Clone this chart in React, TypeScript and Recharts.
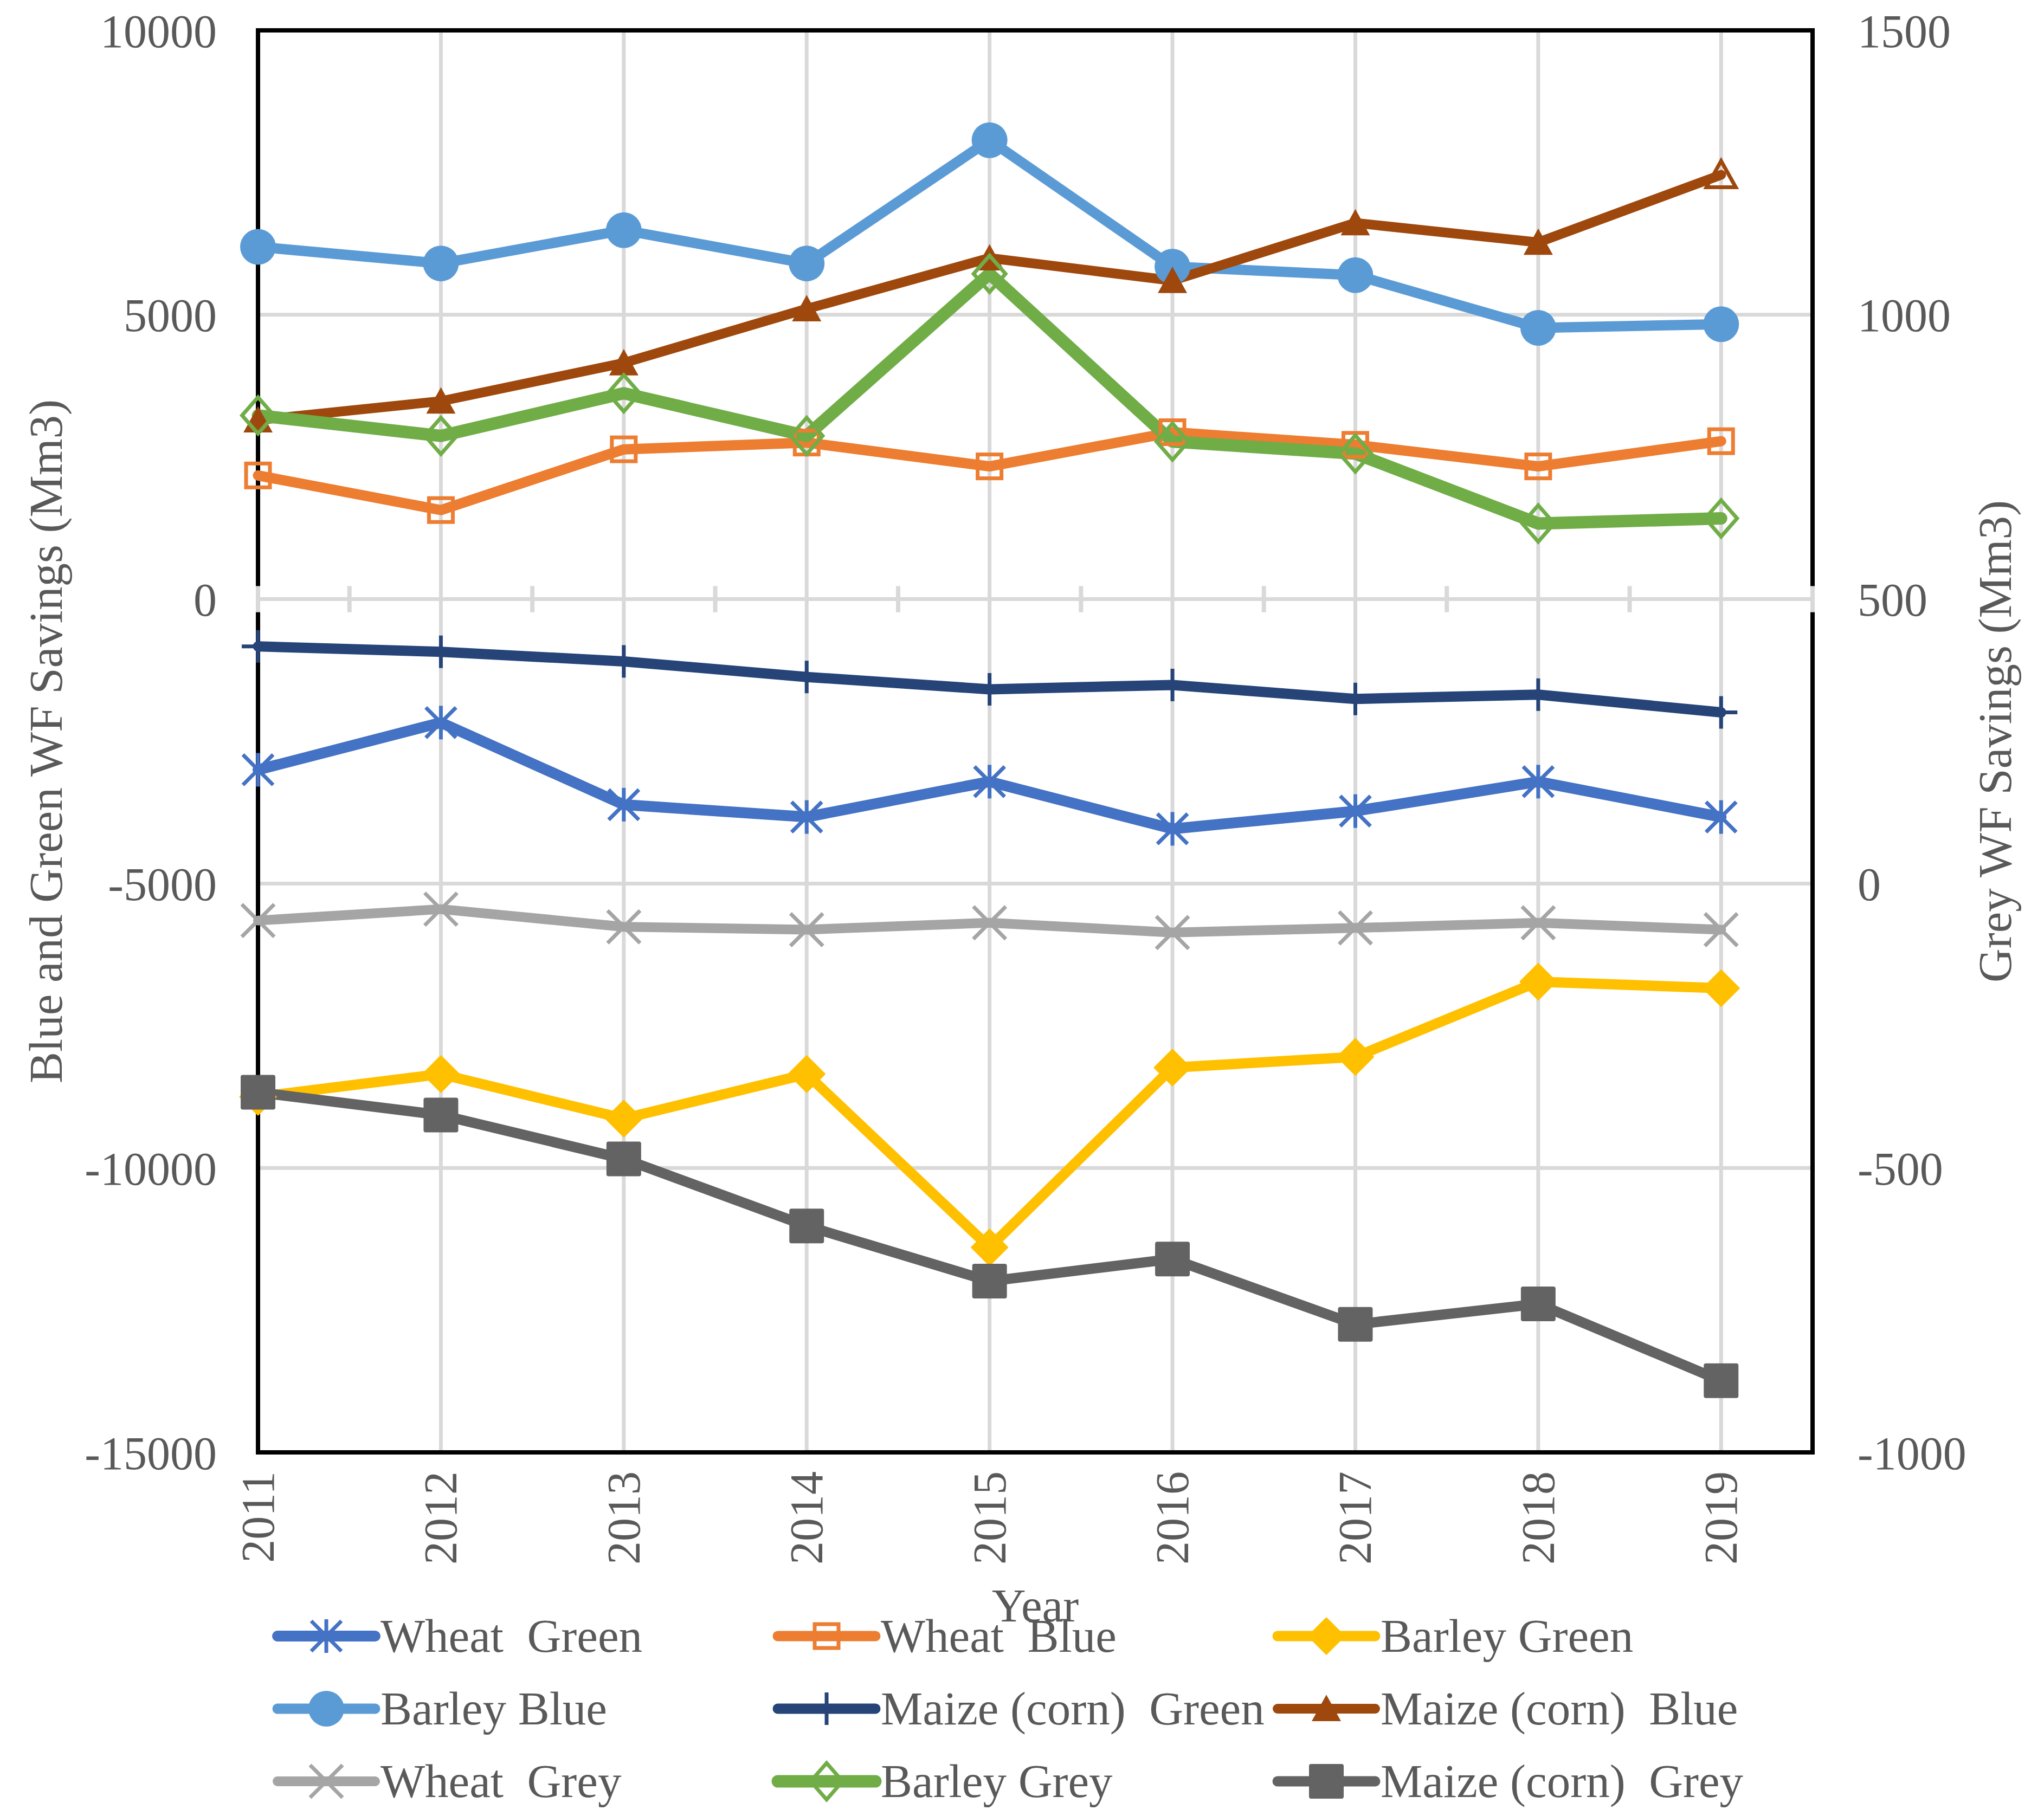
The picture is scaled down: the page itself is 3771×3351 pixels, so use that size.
import { LineChart, Line, XAxis, YAxis, CartesianGrid, ReferenceArea, ReferenceLine } from 'recharts';

const years = [2011, 2012, 2013, 2014, 2015, 2016, 2017, 2018, 2019];

// primary axis (blue and green WF savings, Mm3)
const wheatGreen = [-3000, -2170, -3613, -3830, -3208, -4038, -3726, -3208, -3830];
const wheatBlue = [2175, 1566, 2634, 2753, 2334, 2935, 2713, 2334, 2777];
const barleyGreen = [-8750, -8349, -9132, -8349, -11396, -8236, -8047, -6726, -6840];
const barleyBlue = [6194, 5902, 6487, 5902, 8069, 5846, 5696, 4770, 4834];
const maizeGreen = [-830, -925, -1094, -1368, -1585, -1509, -1755, -1679, -1991];
const maizeBlue = [3149, 3481, 4153, 5103, 5997, 5601, 6614, 6273, 7460];

// secondary axis (grey WF savings, Mm3)
const wheatGrey = [-65, -45, -76, -81, -69, -86, -78, -69, -81];
const barleyGrey = [823, 787, 862, 787, 1072, 777, 756, 633, 642];
const maizeGrey = [-367, -407, -484, -602, -699, -660, -775, -739, -874];

const leftTicks = [-15000, -10000, -5000, 0, 5000, 10000];
const rightTicks = [-1000, -500, 0, 500, 1000, 1500];
// tick marks sitting on the zero line (category axis in the original)
const zeroTicks = [2011, 2011.5, 2012.5, 2013.5, 2014.5, 2015.5, 2016.5, 2017.5, 2018.5, 2019.5];

const data = years.map((year, i) => ({
  year,
  wheatGreen: wheatGreen[i],
  wheatBlue: wheatBlue[i],
  barleyGreen: barleyGreen[i],
  barleyBlue: barleyBlue[i],
  maizeGreen: maizeGreen[i],
  maizeBlue: maizeBlue[i],
  wheatGrey: wheatGrey[i],
  barleyGrey: barleyGrey[i],
  maizeGrey: maizeGrey[i],
}));

type Kind = 'asterisk' | 'squareOpen' | 'diamond' | 'circle' | 'plus' | 'triangle' | 'x' | 'diamondOpen' | 'square';

type Series = {
  key: string;
  name: string;
  color: string;
  width: number;
  kind: Kind;
  size: number;
  axis: 'left' | 'right';
  openLast?: boolean;
};

const series: Series[] = [
  { key: 'wheatGreen', name: 'Wheat  Green', color: '#4472C4', width: 20, kind: 'asterisk', size: 62, axis: 'left' },
  { key: 'wheatBlue', name: 'Wheat  Blue', color: '#ED7D31', width: 19, kind: 'squareOpen', size: 44, axis: 'left' },
  { key: 'barleyGreen', name: 'Barley Green', color: '#FFC000', width: 19, kind: 'diamond', size: 66, axis: 'left' },
  { key: 'barleyBlue', name: 'Barley Blue', color: '#5B9BD5', width: 19, kind: 'circle', size: 66, axis: 'left' },
  { key: 'maizeGreen', name: 'Maize (corn)  Green', color: '#264478', width: 19, kind: 'plus', size: 60, axis: 'left' },
  { key: 'maizeBlue', name: 'Maize (corn)  Blue', color: '#9E480E', width: 18, kind: 'triangle', size: 54, axis: 'left', openLast: true },
  { key: 'wheatGrey', name: 'Wheat  Grey', color: '#A5A5A5', width: 18, kind: 'x', size: 60, axis: 'right' },
  { key: 'barleyGrey', name: 'Barley Grey', color: '#70AD47', width: 23, kind: 'diamondOpen', size: 64, axis: 'right' },
  { key: 'maizeGrey', name: 'Maize (corn)  Grey', color: '#636363', width: 19, kind: 'square', size: 64, axis: 'right' },
];

const FONT = '"Liberation Serif", "Times New Roman", serif';
const INK = '#595959';
const FS = 86;
const GRID = '#D9D9D9';

function Marker({ kind, cx, cy, size, color, open }: { kind: Kind; cx: number; cy: number; size: number; color: string; open?: boolean }) {
  const h = size / 2;
  const sw = 7;
  switch (kind) {
    case 'circle':
      return <circle cx={cx} cy={cy} r={h} fill={color} />;
    case 'square':
      return <rect x={cx - h} y={cy - h} width={size} height={size} rx={4} fill={color} />;
    case 'squareOpen':
      return <rect x={cx - h} y={cy - h} width={size} height={size} fill="none" stroke={color} strokeWidth={sw} />;
    case 'diamond':
      return <polygon points={`${cx},${cy - h} ${cx + h},${cy} ${cx},${cy + h} ${cx - h},${cy}`} fill={color} strokeLinejoin="round" stroke={color} strokeWidth={3} />;
    case 'diamondOpen':
      return (
        <polygon
          points={`${cx},${cy - h * 1.05} ${cx + h * 0.92},${cy} ${cx},${cy + h * 1.05} ${cx - h * 0.92},${cy}`}
          fill="none"
          stroke={color}
          strokeWidth={sw}
        />
      );
    case 'triangle':
      return (
        <polygon
          points={`${cx},${cy - h * 0.95} ${cx + h},${cy + h * 0.85} ${cx - h},${cy + h * 0.85}`}
          fill={open ? 'none' : color}
          stroke={color}
          strokeWidth={open ? sw : 0}
        />
      );
    case 'asterisk':
      return (
        <g stroke={color} strokeWidth={sw}>
          <line x1={cx} y1={cy - h} x2={cx} y2={cy + h} />
          <line x1={cx - h * 0.9} y1={cy - h * 0.9} x2={cx + h * 0.9} y2={cy + h * 0.9} />
          <line x1={cx - h * 0.9} y1={cy + h * 0.9} x2={cx + h * 0.9} y2={cy - h * 0.9} />
        </g>
      );
    case 'x':
      return (
        <g stroke={color} strokeWidth={sw}>
          <line x1={cx - h} y1={cy - h} x2={cx + h} y2={cy + h} />
          <line x1={cx - h} y1={cy + h} x2={cx + h} y2={cy - h} />
        </g>
      );
    case 'plus':
      return (
        <g stroke={color} strokeWidth={sw}>
          <line x1={cx} y1={cy - h} x2={cx} y2={cy + h} />
          <line x1={cx - h} y1={cy} x2={cx + h} y2={cy} />
        </g>
      );
  }
  return null;
}

const dotFor = (s: Series) => (p: any) => {
  if (p.cx == null || p.cy == null) return <g key={`${s.key}-${p.index}`} />;
  const open = s.openLast && p.index === years.length - 1;
  return (
    <g key={`${s.key}-${p.index}`}>
      <Marker kind={s.kind} cx={p.cx} cy={p.cy} size={s.size} color={s.color} open={open} />
    </g>
  );
};

const YearTick = (p: any) => (
  <text
    x={p.x}
    y={p.y}
    transform={`rotate(-90 ${p.x} ${p.y})`}
    textAnchor="end"
    dominantBaseline="central"
    fill={INK}
    fontSize={FS}
    fontFamily={FONT}
  >
    {p.payload.value}
  </text>
);

const titleStyle = { fill: INK, fontSize: 87, fontFamily: FONT };

const LeftTitle = (p: any) => {
  const vb = p.viewBox || { x: 0, y: 56, width: 476, height: 2624 };
  const x = vb.x + 84;
  const y = vb.y + vb.height / 2;
  return (
    <text x={x} y={y} transform={`rotate(-90 ${x} ${y})`} textAnchor="middle" dominantBaseline="central" {...titleStyle}>
      Blue and Green WF Savings (Mm3)
    </text>
  );
};

const RightTitle = (p: any) => {
  const vb = p.viewBox || { x: 3344, y: 56, width: 427, height: 2624 };
  const x = vb.x + 336;
  const y = vb.y + vb.height / 2;
  return (
    <text x={x} y={y} transform={`rotate(-90 ${x} ${y})`} textAnchor="middle" dominantBaseline="central" {...titleStyle}>
      Grey WF Savings (Mm3)
    </text>
  );
};

const YearTitle = (p: any) => {
  const vb = p.viewBox || { x: 476, y: 2680, width: 2868, height: 671 };
  return (
    <text x={vb.x + vb.width / 2} y={vb.y + 312} textAnchor="middle" {...titleStyle}>
      Year
    </text>
  );
};

const legendCols = [512, 1435, 2357];
const legendRows = [3019, 3153, 3287];

function LegendIcon({ s }: { s: Series }) {
  return (
    <svg width={180} height={70} style={{ display: 'block', overflow: 'visible' }}>
      <line x1={0} y1={35} x2={180} y2={35} stroke={s.color} strokeWidth={s.width} strokeLinecap="round" />
      <Marker kind={s.kind} cx={90} cy={35} size={s.size} color={s.color} />
    </svg>
  );
}

export default function App() {
  const tickStyle = { fill: INK, fontSize: FS, fontFamily: FONT };
  return (
    <div style={{ position: 'relative', width: 3771, height: 3351, background: '#fff' }}>
      <style>{'html,body{margin:0;padding:0;overflow:hidden;background:#fff}'}</style>
      <LineChart width={3771} height={3351} data={data} margin={{ top: 56, right: 0, bottom: 0, left: 0 }}>
        <CartesianGrid yAxisId="left" stroke={GRID} strokeWidth={7} />
        <XAxis
          dataKey="year"
          type="number"
          domain={[2011, 2019.5]}
          ticks={years}
          interval={0}
          height={671}
          axisLine={false}
          tickLine={false}
          tickSize={0}
          tickMargin={35}
          tick={<YearTick />}
          label={{ content: YearTitle }}
        />
        <YAxis
          yAxisId="left"
          orientation="left"
          domain={[-15000, 10000]}
          ticks={leftTicks}
          interval={0}
          width={476}
          axisLine={false}
          tickLine={false}
          tickSize={0}
          tickMargin={76}
          tick={tickStyle}
          label={{ content: LeftTitle }}
        />
        <YAxis
          yAxisId="right"
          orientation="right"
          domain={[-1000, 1500]}
          ticks={rightTicks}
          interval={0}
          width={427}
          axisLine={false}
          tickLine={false}
          tickSize={0}
          tickMargin={83}
          tick={tickStyle}
          label={{ content: RightTitle }}
        />
        <ReferenceArea
          yAxisId="left"
          x1={2011}
          x2={2019.5}
          y1={-15000}
          y2={10000}
          fill="none"
          fillOpacity={0}
          stroke="#000"
          strokeWidth={8}
          ifOverflow="visible"
        />
        <ReferenceLine yAxisId="left" y={0} stroke={GRID} strokeWidth={7} ifOverflow="visible" />
        {zeroTicks.map((t) => (
          <ReferenceLine
            key={t}
            yAxisId="left"
            segment={[
              { x: t, y: -230 },
              { x: t, y: 230 },
            ]}
            stroke={GRID}
            strokeWidth={8}
            ifOverflow="visible"
          />
        ))}
        {series.map((s) => (
          <Line
            key={s.key}
            yAxisId={s.axis}
            dataKey={s.key}
            name={s.name}
            type="linear"
            stroke={s.color}
            strokeWidth={s.width}
            strokeLinejoin="round"
            strokeLinecap="round"
            dot={dotFor(s)}
            activeDot={false}
            isAnimationActive={false}
          />
        ))}
      </LineChart>
      {series.map((s, i) => (
        <div
          key={s.key}
          style={{
            position: 'absolute',
            left: legendCols[i % 3],
            top: legendRows[Math.floor(i / 3)] - 35,
            height: 70,
            display: 'flex',
            alignItems: 'center',
          }}
        >
          <LegendIcon s={s} />
          <span
            style={{
              marginLeft: 10,
              fontFamily: FONT,
              fontSize: 87,
              color: INK,
              whiteSpace: 'pre',
              lineHeight: '70px',
            }}
          >
            {s.name}
          </span>
        </div>
      ))}
    </div>
  );
}
